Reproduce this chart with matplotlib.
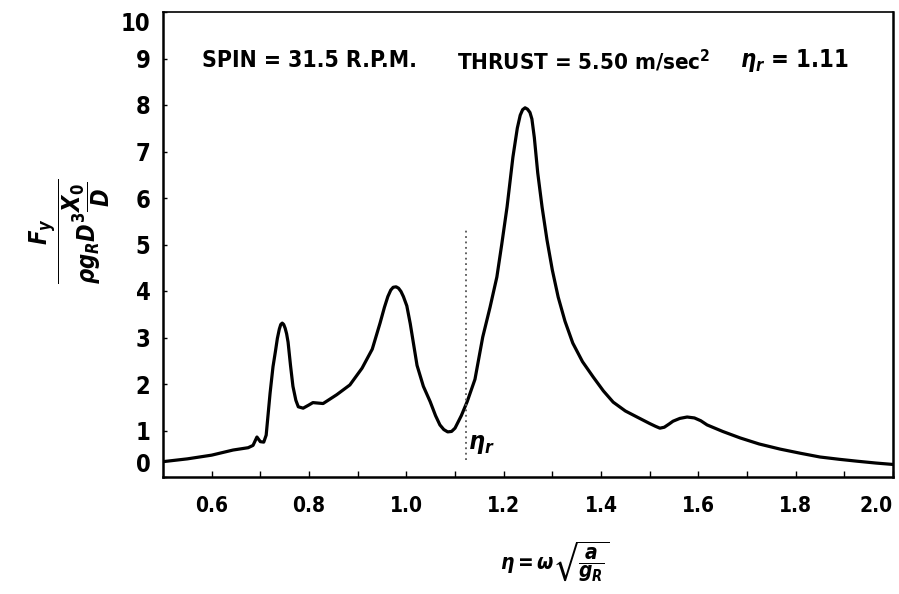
import matplotlib
matplotlib.use('Agg')
import matplotlib.pyplot as plt
import numpy as np

# frequency ratio eta and non-dimensional side force
eta = [0.50, 0.55, 0.60, 0.644, 0.675, 0.685, 0.693, 0.700, 0.707, 0.712,
       0.720, 0.726, 0.731, 0.735, 0.739, 0.742, 0.745, 0.748, 0.751, 0.754,
       0.757, 0.762, 0.767, 0.773, 0.778, 0.788, 0.800, 0.808, 0.829, 0.857,
       0.884, 0.909, 0.930, 0.946, 0.955, 0.962, 0.968, 0.973, 0.979, 0.984,
       0.989, 0.994, 1.001, 1.008, 1.015, 1.022, 1.035, 1.049, 1.060, 1.069,
       1.077, 1.085, 1.093, 1.100, 1.113, 1.125, 1.131, 1.141, 1.157, 1.172,
       1.186, 1.196, 1.207, 1.219, 1.228, 1.234, 1.239, 1.244, 1.249, 1.254,
       1.258, 1.263, 1.270, 1.279, 1.289, 1.300, 1.312, 1.326, 1.342, 1.362,
       1.384, 1.405, 1.425, 1.450, 1.474, 1.500, 1.512, 1.521, 1.530, 1.540,
       1.548, 1.562, 1.577, 1.592, 1.605, 1.618, 1.650, 1.686, 1.725, 1.768,
       1.810, 1.850, 1.890, 1.926, 1.965, 2.000]
force = [0.33, 0.39, 0.47, 0.58, 0.63, 0.68, 0.86, 0.76, 0.75, 0.90,
         1.80, 2.37, 2.70, 2.98, 3.18, 3.28, 3.31, 3.28, 3.20, 3.08,
         2.90, 2.40, 1.95, 1.65, 1.51, 1.48, 1.55, 1.60, 1.58, 1.77,
         1.98, 2.34, 2.75, 3.31, 3.65, 3.88, 4.02, 4.08, 4.09, 4.06,
         3.99, 3.88, 3.68, 3.30, 2.85, 2.40, 1.95, 1.62, 1.32, 1.12,
         1.02, 0.97, 0.98, 1.05, 1.32, 1.62, 1.80, 2.10, 3.01, 3.65,
         4.30, 5.00, 5.81, 6.88, 7.50, 7.78, 7.90, 7.94, 7.91, 7.84,
         7.70, 7.30, 6.54, 5.80, 5.10, 4.45, 3.87, 3.35, 2.88, 2.48,
         2.15, 1.85, 1.61, 1.42, 1.29, 1.15, 1.09, 1.05, 1.07, 1.14,
         1.20, 1.26, 1.29, 1.27, 1.21, 1.12, 0.98, 0.84, 0.71, 0.60,
         0.51, 0.43, 0.38, 0.34, 0.30, 0.27]

eta_r = 1.11
eta_r_line = 1.123
x_ticks = [0.6, 0.8, 1.0, 1.2, 1.4, 1.6, 1.8, 2.0]
x_labels = ['0.6', '0.8', '1.0', '1.2', '1.4', '1.6', '1.8', '2.0']
y_ticks = list(range(0, 11))

plt.rcParams['font.family'] = ['DejaVu Sans']
plt.rcParams['font.weight'] = 'bold'
plt.rcParams['font.stretch'] = 'condensed'
plt.rcParams['mathtext.fontset'] = 'dejavusans'

fig = plt.figure(figsize=(8.99, 5.94), dpi=100)
ax = fig.add_axes([163/899, 1 - 477/594, 730/899, 465/594])

ax.plot(eta, force, color='black', lw=2.3, solid_joinstyle='round', solid_capstyle='round')

# resonance marker
ax.plot([eta_r_line, eta_r_line], [0.37, 5.35], color='#555555', lw=1.3, ls=(0, (1, 2)))
ax.text(eta_r_line + 0.004, 0.72, r'$\eta_r$', fontsize=18, ha='left', va='center')

ax.text(0.58, 8.95, 'SPIN = 31.5 R.P.M.', fontsize=16.5, ha='left', va='center')
ax.text(1.105, 8.95, r'THRUST = 5.50 m/sec$^2$', fontsize=16, ha='left', va='center')
ax.text(1.685, 8.95, r'$\eta_r$ = ' + '%.2f' % eta_r, fontsize=17, ha='left', va='center')

ax.set_xlim(0.5, 2.0)
ax.set_ylim(0, 10)
ax.set_xticks(x_ticks)
ax.set_xticklabels(x_labels)
ax.set_xticks(np.arange(0.6, 2.0, 0.1), minor=True)
ax.set_yticks(y_ticks)
ax.tick_params(axis='x', which='both', direction='in', length=4, width=1, pad=14, labelsize=15)
ax.tick_params(axis='y', direction='in', length=3, width=1, pad=9, labelsize=17)
ax.get_xticklabels()[-1].set_horizontalalignment('right')
ax.get_yticklabels()[0].set_verticalalignment('bottom')
ax.get_yticklabels()[-1].set_verticalalignment('top')
for s in ax.spines.values():
    s.set_linewidth(1.8)
ax.spines['top'].set_linewidth(1.2)

fig.text(0.078, 0.61, r'$\dfrac{F_y}{\rho g_R D^3 \dfrac{X_0}{D}}$', rotation=90,
         fontsize=17, ha='center', va='center')
fig.text(0.617, 0.054, r'$\eta = \omega\sqrt{\dfrac{a}{g_R}}$', fontsize=15,
         ha='center', va='center')

fig.savefig('out.png', dpi=100)
